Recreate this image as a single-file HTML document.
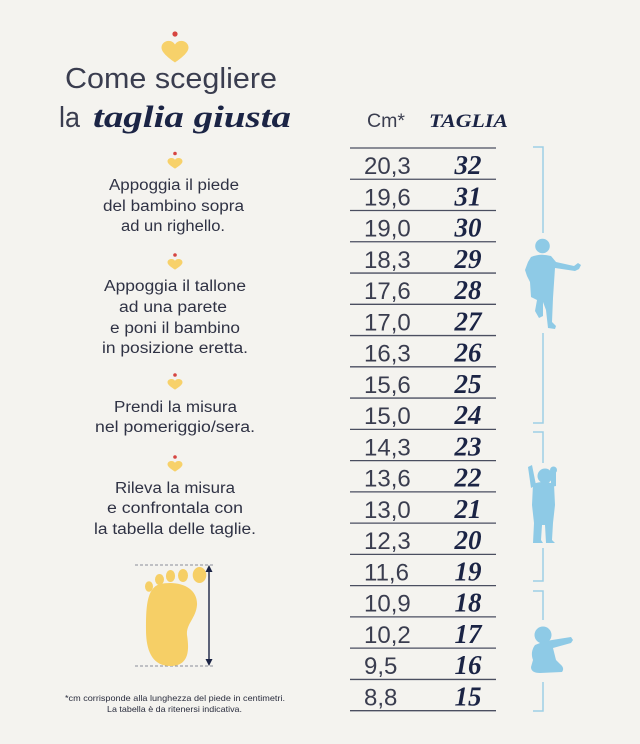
<!DOCTYPE html>
<html><head><meta charset="utf-8"><style>
html,body{margin:0;padding:0;background:#f4f3ef;}
svg{display:block;}
.s{font-family:"Liberation Sans",sans-serif;}
.r{font-family:"Liberation Serif",serif;font-weight:bold;font-style:italic;}
</style></head><body>
<svg width="640" height="744" viewBox="0 0 640 744" xmlns="http://www.w3.org/2000/svg">
<rect width="640" height="744" fill="#f4f3ef"/>
<defs>
<path id="hrt" d="M 0 0.85 C -0.35 0.6 -1 0.15 -1 -0.25 C -1 -0.55 -0.75 -0.75 -0.47 -0.75 C -0.25 -0.75 -0.08 -0.62 0 -0.48 C 0.08 -0.62 0.25 -0.75 0.47 -0.75 C 0.75 -0.75 1 -0.55 1 -0.25 C 1 0.15 0.35 0.6 0 0.85 Z"/>
</defs>
<!-- big heart -->
<circle cx="175" cy="34" r="2.6" fill="#d64541"/>
<use href="#hrt" transform="translate(175,51) scale(13.5)" fill="#f7d16a"/>
<!-- title -->
<text class="s" x="65" y="88" font-size="29" fill="#3a3d4f" textLength="212" lengthAdjust="spacingAndGlyphs">Come scegliere</text>
<text class="s" x="59" y="127" font-size="29" fill="#3a3d4f" textLength="21" lengthAdjust="spacingAndGlyphs">la</text>
<text class="r" x="93" y="127" font-size="31" fill="#1b2445" textLength="198" lengthAdjust="spacingAndGlyphs">taglia giusta</text>

<!-- small hearts -->
<g fill="#f7d16a">
<use href="#hrt" transform="translate(175,163) scale(7.5,6.6)"/>
<use href="#hrt" transform="translate(175,264) scale(7.5,6.6)"/>
<use href="#hrt" transform="translate(175,384) scale(7.5,6.6)"/>
<use href="#hrt" transform="translate(175,466) scale(7.5,6.6)"/>
</g>
<g fill="#d64541">
<circle cx="175" cy="153.5" r="1.8"/>
<circle cx="175" cy="255" r="1.8"/>
<circle cx="175" cy="375" r="1.8"/>
<circle cx="175" cy="457" r="1.8"/>
</g>

<!-- instructions -->
<g class="s" font-size="15.5" fill="#2f3244">
<text x="109" y="190" textLength="130" lengthAdjust="spacingAndGlyphs">Appoggia il piede</text>
<text x="103" y="211" textLength="141" lengthAdjust="spacingAndGlyphs">del bambino sopra</text>
<text x="121" y="231" textLength="104" lengthAdjust="spacingAndGlyphs">ad un righello.</text>
<text x="104" y="291" textLength="142" lengthAdjust="spacingAndGlyphs">Appoggia il tallone</text>
<text x="119" y="312" textLength="108" lengthAdjust="spacingAndGlyphs">ad una parete</text>
<text x="110" y="333" textLength="130" lengthAdjust="spacingAndGlyphs">e poni il bambino</text>
<text x="102" y="353" textLength="146" lengthAdjust="spacingAndGlyphs">in posizione eretta.</text>
<text x="114" y="412" textLength="123" lengthAdjust="spacingAndGlyphs">Prendi la misura</text>
<text x="95" y="432" textLength="160" lengthAdjust="spacingAndGlyphs">nel pomeriggio/sera.</text>
<text x="115" y="493" textLength="120" lengthAdjust="spacingAndGlyphs">Rileva la misura</text>
<text x="107" y="513" textLength="136" lengthAdjust="spacingAndGlyphs">e confrontala con</text>
<text x="94" y="534" textLength="162" lengthAdjust="spacingAndGlyphs">la tabella delle taglie.</text>
</g>

<!-- foot -->
<g stroke="#8a8d99" stroke-width="1" stroke-dasharray="3,2">
<line x1="135" y1="565" x2="215" y2="565"/>
<line x1="135" y1="666" x2="215" y2="666"/>
</g>
<g fill="#f6cf66">
<path d="M 160 584 C 180 580 198 588 197 605 C 196 618 186 624 187 635 C 189 648 190 665 172 666 C 152 667 146 650 146 630 C 146 610 146 588 160 584 Z"/>
<ellipse cx="199.5" cy="575" rx="6.8" ry="8"/>
<ellipse cx="183" cy="575.5" rx="5" ry="6.5"/>
<ellipse cx="170.5" cy="576" rx="4.6" ry="6"/>
<ellipse cx="159.5" cy="579.5" rx="4.5" ry="5.5"/>
<ellipse cx="149" cy="586.5" rx="4" ry="5.3"/>
</g>
<line x1="209" y1="570" x2="209" y2="661" stroke="#1b2445" stroke-width="1.4"/>
<polygon points="209,565 205.5,572 212.5,572" fill="#1b2445"/>
<polygon points="209,666 205.5,659 212.5,659" fill="#1b2445"/>

<!-- footnote -->
<text class="s" x="65" y="701" font-size="8.5" fill="#2a2d3e" textLength="220" lengthAdjust="spacingAndGlyphs">*cm corrisponde alla lunghezza del piede in centimetri.</text>
<text class="s" x="107" y="712" font-size="8.5" fill="#2a2d3e" textLength="135" lengthAdjust="spacingAndGlyphs">La tabella è da ritenersi indicativa.</text>

<!-- table header -->
<text class="s" x="367" y="127" font-size="19" fill="#3a3d4f" textLength="38" lengthAdjust="spacingAndGlyphs">Cm*</text>
<text class="r" x="429" y="127" font-size="19" fill="#1b2445" textLength="79" lengthAdjust="spacingAndGlyphs">TAGLIA</text>

<!-- table lines -->
<g stroke="#4a4e60" stroke-width="1.3">
<line x1="350" y1="148" x2="496" y2="148"/>
<line x1="350" y1="179.26" x2="496" y2="179.26"/>
<line x1="350" y1="210.52" x2="496" y2="210.52"/>
<line x1="350" y1="241.78" x2="496" y2="241.78"/>
<line x1="350" y1="273.04" x2="496" y2="273.04"/>
<line x1="350" y1="304.3" x2="496" y2="304.3"/>
<line x1="350" y1="335.56" x2="496" y2="335.56"/>
<line x1="350" y1="366.82" x2="496" y2="366.82"/>
<line x1="350" y1="398.08" x2="496" y2="398.08"/>
<line x1="350" y1="429.34" x2="496" y2="429.34"/>
<line x1="350" y1="460.6" x2="496" y2="460.6"/>
<line x1="350" y1="491.86" x2="496" y2="491.86"/>
<line x1="350" y1="523.12" x2="496" y2="523.12"/>
<line x1="350" y1="554.38" x2="496" y2="554.38"/>
<line x1="350" y1="585.64" x2="496" y2="585.64"/>
<line x1="350" y1="616.9" x2="496" y2="616.9"/>
<line x1="350" y1="648.16" x2="496" y2="648.16"/>
<line x1="350" y1="679.42" x2="496" y2="679.42"/>
<line x1="350" y1="710.68" x2="496" y2="710.68"/>
</g>

<!-- cm values -->
<g class="s" font-size="24" fill="#3a3d4f">
<text x="364" y="174">20,3</text>
<text x="364" y="205.3">19,6</text>
<text x="364" y="236.5">19,0</text>
<text x="364" y="267.8">18,3</text>
<text x="364" y="299">17,6</text>
<text x="364" y="330.3">17,0</text>
<text x="364" y="361.6">16,3</text>
<text x="364" y="392.8">15,6</text>
<text x="364" y="424.1">15,0</text>
<text x="364" y="455.3">14,3</text>
<text x="364" y="486.6">13,6</text>
<text x="364" y="517.9">13,0</text>
<text x="364" y="549.1">12,3</text>
<text x="364" y="580.4">11,6</text>
<text x="364" y="611.6">10,9</text>
<text x="364" y="642.9">10,2</text>
<text x="364" y="674.2">9,5</text>
<text x="364" y="705.4">8,8</text>
</g>
<!-- sizes -->
<g class="r" font-size="27" fill="#1b2445" text-anchor="middle">
<text x="468" y="174">32</text>
<text x="468" y="205.3">31</text>
<text x="468" y="236.5">30</text>
<text x="468" y="267.8">29</text>
<text x="468" y="299">28</text>
<text x="468" y="330.3">27</text>
<text x="468" y="361.6">26</text>
<text x="468" y="392.8">25</text>
<text x="468" y="424.1">24</text>
<text x="468" y="455.3">23</text>
<text x="468" y="486.6">22</text>
<text x="468" y="517.9">21</text>
<text x="468" y="549.1">20</text>
<text x="468" y="580.4">19</text>
<text x="468" y="611.6">18</text>
<text x="468" y="642.9">17</text>
<text x="468" y="674.2">16</text>
<text x="468" y="705.4">15</text>
</g>

<!-- brackets -->
<g stroke="#9dcfe6" stroke-width="1.5" fill="none">
<polyline points="533,147 543,147 543,233"/>
<polyline points="543,333 543,423 533,423"/>
<polyline points="533,432 543,432 543,463"/>
<polyline points="543,548 543,581 533,581"/>
<polyline points="533,591 543,591 543,620"/>
<polyline points="543,682 543,711 533,711"/>
</g>

<!-- silhouettes -->
<g fill="#8ecae6">
<circle cx="542.5" cy="246" r="7.3"/>
<path d="M 531 257 Q 540 253 551 256 L 556 262 L 574 266 L 578 263 L 581 265 L 579 269 L 575 271 L 555 268 L 554 283 L 553 298 L 552 322 L 556 326 L 555 329 L 548 328 L 546 310 L 543 302 L 543 316 L 539 318 L 535 311 L 537 300 L 531 297 L 530 282 L 527 276 L 525 270 L 528 262 Z"/>
<circle cx="545" cy="476" r="7.5"/>
<circle cx="553.5" cy="470" r="3.5"/>
<path d="M 551 470 L 556 471 L 556 486 L 551 487 Z"/>
<path d="M 528 467 L 532 465 L 536 485 L 531 488 Z"/>
<path d="M 533 484 Q 543 480 554 484 L 555 505 L 553 523 L 552 540 L 555 543 L 546 543 L 545 525 L 542 525 L 541 540 L 543 543 L 533 543 L 534 523 L 532 505 Z"/>
<circle cx="543" cy="635" r="8.5"/>
<path d="M 535 645 Q 530 652 533 660 L 531 667 Q 531 673 540 673 L 562 672 Q 565 668 560 664 L 556 660 L 553 648 L 571 643 L 573 640 L 571 637 L 552 640 Q 545 641 540 643 Z"/>
</g>
</svg>
</body></html>
